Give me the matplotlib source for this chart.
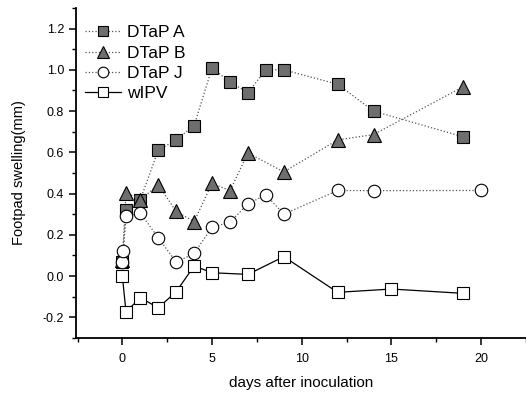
import numpy as np
import matplotlib
matplotlib.use("Agg")
import matplotlib.pyplot as plt
from matplotlib.ticker import MultipleLocator

# values
days_a = [0, 0.2, 1, 2, 3, 4, 5, 6, 7, 8, 9, 12, 14, 19]
dtap_a = [0.07, 0.32, 0.37, 0.61, 0.66, 0.73, 1.01, 0.94, 0.89, 1.00, 1.00, 0.93, 0.80, 0.675]

days_b = [0, 0.2, 1, 2, 3, 4, 5, 6, 7, 9, 12, 14, 19]
dtap_b = [0.08, 0.405, 0.37, 0.443, 0.313, 0.264, 0.45, 0.414, 0.597, 0.505, 0.66, 0.686, 0.918]

days_j = [0, 0.05, 0.2, 1, 2, 3, 4, 5, 6, 7, 8, 9, 12, 14, 20]
dtap_j = [0.07, 0.12, 0.29, 0.305, 0.186, 0.067, 0.11, 0.237, 0.261, 0.35, 0.394, 0.30, 0.415, 0.414, 0.415]

days_w = [0, 0.2, 1, 2, 3, 4, 5, 7, 9, 12, 15, 19]
wipv = [0.0, -0.174, -0.105, -0.154, -0.076, 0.049, 0.016, 0.008, 0.094, -0.079, -0.063, -0.084]

plt.rcParams['font.family'] = ['Liberation Sans', 'DejaVu Sans']

fig = plt.figure(figsize=(5.26, 3.98), dpi=100)
ax = fig.add_axes([0.144, 0.151, 0.856, 0.829])

gray = '#6e6e6e'
ax.plot(days_a, dtap_a, color='#555555', ls=':', lw=0.9, marker='s', ms=8,
        mfc=gray, mec='black', mew=0.8, label='DTaP A')
ax.plot(days_b, dtap_b, color='#555555', ls=':', lw=0.9, marker='^', ms=10,
        mfc=gray, mec='black', mew=0.8, label='DTaP B')
ax.plot(days_j, dtap_j, color='#555555', ls=':', lw=0.9, marker='o', ms=9,
        mfc='white', mec='black', mew=0.8, label='DTaP J')
ax.plot(days_w, wipv, color='black', ls='-', lw=0.9, marker='s', ms=8.5,
        mfc='white', mec='black', mew=0.8, label='wIPV')

ax.set_xlim(-2.6, 22.5)
ax.set_ylim(-0.3, 1.3)
ax.xaxis.set_major_locator(MultipleLocator(5))
ax.xaxis.set_minor_locator(MultipleLocator(2.5))
ax.yaxis.set_major_locator(MultipleLocator(0.2))
ax.yaxis.set_minor_locator(MultipleLocator(0.1))
ax.yaxis.set_major_formatter(matplotlib.ticker.FormatStrFormatter('%.1f'))

for side in ['top', 'right']:
    ax.spines[side].set_visible(False)
ax.spines['left'].set_linewidth(1.3)
ax.spines['bottom'].set_linewidth(1.3)
ax.tick_params(which='major', direction='out', length=5, width=1.1, labelsize=9)
ax.tick_params(which='minor', direction='out', length=3, width=1.0)
ax.tick_params(axis='x', pad=6)

ax.set_xlabel('days after inoculation', fontsize=11, labelpad=8)
ax.set_ylabel('Footpad swelling(mm)', fontsize=10.5, labelpad=12)

ax.legend(loc='upper left', bbox_to_anchor=(0.02, 0.948), frameon=False,
          fontsize=12.5, handlelength=2.1, handletextpad=0.35,
          labelspacing=0.3, markerscale=0.85, borderaxespad=0, borderpad=0)

fig.savefig('out.png', dpi=100)
